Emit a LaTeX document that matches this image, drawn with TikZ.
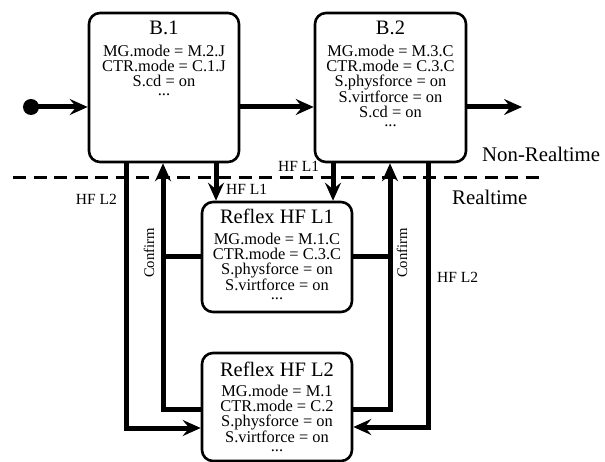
\documentclass[tikz,border=0pt]{standalone}
\usepackage{fontspec}
\setmainfont{Liberation Serif}
\usetikzlibrary{arrows.meta}
\begin{document}
\begin{tikzpicture}[x=1pt,y=-1pt,
  box/.style={draw,line width=2.6pt,rounded corners=11pt,inner sep=0pt},
  flow/.style={line width=5pt,-{Stealth[length=18pt,width=16pt,inset=6.5pt]}},
  plainline/.style={line width=5pt},
  lbl/.style={font=\fontsize{15.5}{16}\selectfont,inner sep=0pt},
  conf/.style={font=\fontsize{14.7}{15}\selectfont,inner sep=0pt,rotate=90},
  big/.style={font=\fontsize{20.8}{22}\selectfont,inner sep=0pt},
  body/.style={align=center,inner sep=0pt,font=\fontsize{16.4}{15}\selectfont},
]
\useasboundingbox (0,0) rectangle (605,462);
% boxes
\node[box,minimum width=150pt,minimum height=149pt] (b1) at (164,87.5) {};
\node[box,minimum width=151pt,minimum height=149pt] (b2) at (390.5,87.5) {};
\node[box,minimum width=150pt,minimum height=110pt] (r1) at (277,257) {};
\node[box,minimum width=150pt,minimum height=108pt] (r2) at (277,407) {};
% box texts
\node[body,anchor=north] (t1) at (164,20.5) {{\fontsize{20.5}{15}\selectfont B.1}\\[7pt]
  MG.mode = M.2.J\\ CTR.mode = C.1.J\\ S.cd = on\\[-6pt] ...};
\node[body,anchor=north] (t2) at (390.5,20.5) {{\fontsize{20.5}{15}\selectfont B.2}\\[7pt]
  MG.mode = M.3.C\\ CTR.mode = C.3.C\\ S.physforce = on\\ S.virtforce = on\\ S.cd = on\\[-6pt] ...};
\node[body,anchor=north] (t3) at (277,209) {{\fontsize{20.5}{15}\selectfont Reflex HF L1}\\[6pt]
  MG.mode = M.1.C\\ CTR.mode = C.3.C\\ S.physforce = on\\ S.virtforce = on\\[-6pt] ...};
\node[body,anchor=north] (t4) at (277,362) {{\fontsize{20.5}{15}\selectfont Reflex HF L2}\\[5pt]
  MG.mode = M.1\\ CTR.mode = C.2\\ S.physforce = on\\ S.virtforce = on\\[-6pt] ...};
% realtime border
\coordinate (dl) at (13,178);
\coordinate (dr) at (540,178);
\draw[line width=3pt,dash pattern=on 13pt off 7.5pt] (dl) -- (dr);
\node[big,anchor=base west] (nrt) at (482,162) {Non-Realtime};
\node[big,anchor=base west] (rt) at (452,205) {Realtime};
% helper coordinates
\coordinate (xa) at (126,0);
\coordinate (xb) at (163,0);
\coordinate (xc) at (216,0);
\coordinate (xd) at (333,0);
\coordinate (xe) at (390,0);
\coordinate (xf) at (428,0);
\coordinate (ya) at (0,428);
\coordinate (yb) at (0,409);
\coordinate (yf) at (0,427);
% main flow
\node[circle,fill,minimum size=16pt,inner sep=0pt] (start) at (31,107) {};
\coordinate (out) at (522,107);
\draw[flow] (start.center) -- (b1.west |- start);
\draw[flow] (b1.east |- start) -- (b2.west |- start);
\draw[flow] (b2.east |- out) -- (out);
% HF L1
\draw[flow] (b1.south -| xc) -- (r1.north -| xc);
\draw[flow] (b2.south -| xd) -- (r1.north -| xd);
% HF L2
\draw[flow] (b1.south -| xa) |- (r2.west |- ya);
\draw[flow] (b2.south -| xf) |- (r2.east |- yf);
% Confirm
\draw[flow] (r2.west |- yb) -| (b1.south -| xb);
\draw[plainline] (r1.west) -- (r1.west -| xb);
\draw[flow] (r2.east |- yb) -| (b2.south -| xe);
\draw[plainline] (r1.east) -- (r1.east -| xe);
% labels
\node[lbl,anchor=base west] (l1) at (226,195) {HF L1};
\node[lbl,anchor=base west] (l2) at (278,172) {HF L1};
\node[lbl,anchor=base east] (l3) at (117,205) {HF L2};
\node[lbl,anchor=base west] (l4) at (437,283) {HF L2};
\node[conf] (c1) at (149,253) {Confirm};
\node[conf] (c2) at (402,253) {Confirm};
\end{tikzpicture}
\end{document}
